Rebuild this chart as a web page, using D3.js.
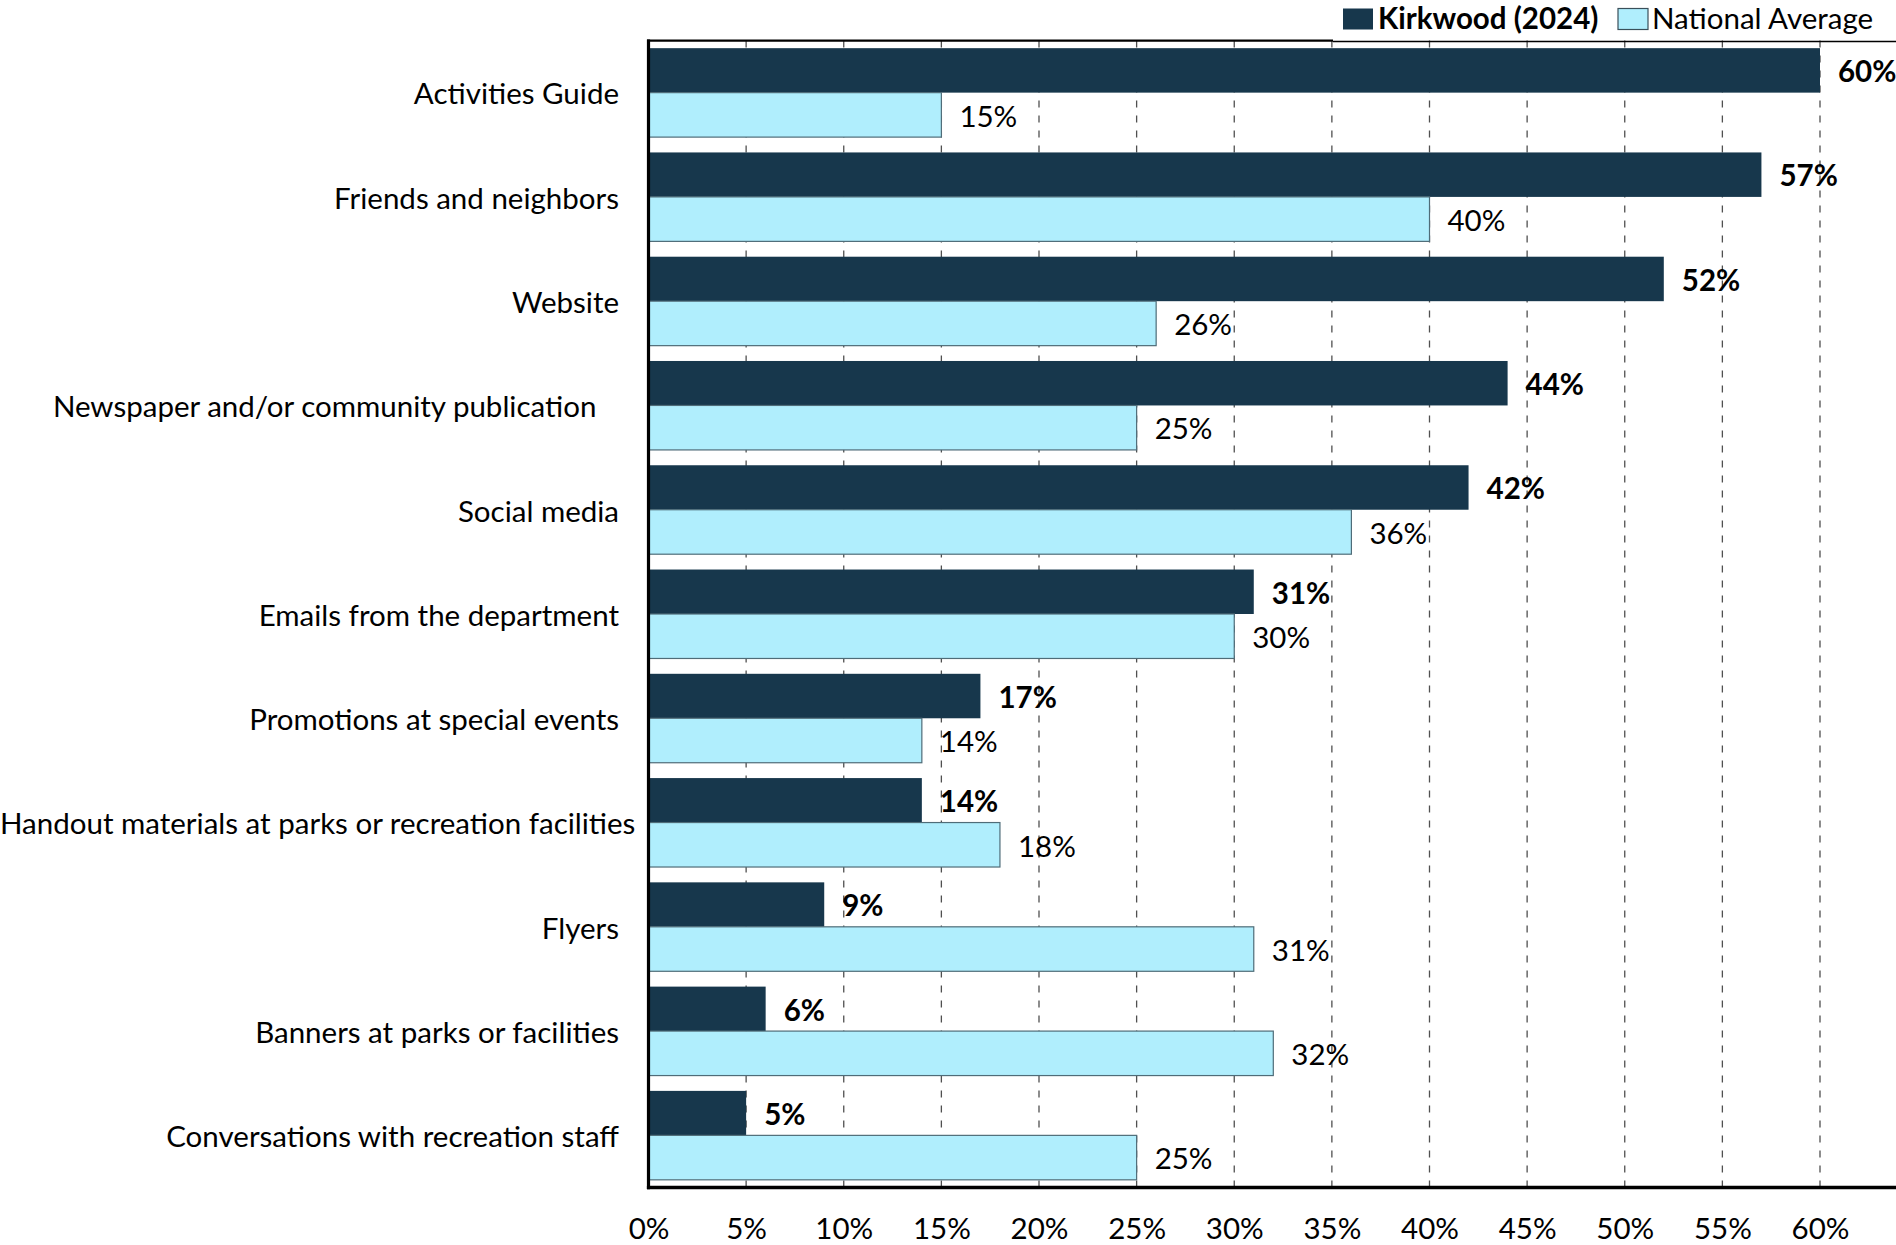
<!DOCTYPE html>
<html>
<head>
<meta charset="utf-8">
<script src="https://cdn.jsdelivr.net/npm/d3@7"></script>
<style>
  html, body { margin: 0; padding: 0; background: #fff; }
  svg { display: block; }
  text { font-family: Lato, "Open Sans", sans-serif; fill: #000; }
</style>
</head>
<body>
<svg id="chart" width="1896" height="1245"></svg>
<script>
const categories = [
  "Activities Guide",
  "Friends and neighbors",
  "Website",
  "Newspaper and/or community publication\u00a0\u00a0\u00a0",
  "Social media",
  "Emails from the department",
  "Promotions at special events",
  "Handout materials at parks or recreation facilities",
  "Flyers",
  "Banners at parks or facilities",
  "Conversations with recreation staff"
];
const kirkwood = [60, 57, 52, 44, 42, 31, 17, 14, 9, 6, 5];
const national = [15, 40, 26, 25, 36, 30, 14, 18, 31, 32, 25];
const seriesNames = ["Kirkwood (2024)", "National Average"];
const xTicks = [0, 5, 10, 15, 20, 25, 30, 35, 40, 45, 50, 55, 60];

const W = 1896, H = 1245;
const m = { left: 648.5, top: 40.5, bottom: 1187.5 };
const colors = ["#17374C", "#B0EEFD"];
const fontSize = 29.5;

const svg = d3.select("#chart");

const x = d3.scaleLinear().domain([0, 60]).range([m.left, 1820]);
const y = d3.scaleBand().domain(categories).range([m.top, m.bottom]).paddingInner(0.147).paddingOuter(0.0735);
const sub = d3.scaleBand().domain([0, 1]).range([0, y.bandwidth()]);

// gridlines
svg.append("g").selectAll("line").data(xTicks.filter(d => d > 0)).join("line")
  .attr("x1", d => x(d)).attr("x2", d => x(d))
  .attr("y1", m.top).attr("y2", m.bottom)
  .attr("stroke", "#505050").attr("stroke-width", 1.3)
  .attr("stroke-dasharray", "7,8");

// bars
const rows = categories.map((c, i) => ({ c, v: [kirkwood[i], national[i]] }));
const g = svg.append("g").selectAll("g").data(rows).join("g")
  .attr("transform", d => `translate(0,${y(d.c)})`);

g.selectAll("rect").data(d => d.v.map((v, k) => ({ v, k }))).join("rect")
  .attr("x", x(0))
  .attr("y", d => sub(d.k))
  .attr("width", d => x(d.v) - x(0))
  .attr("height", sub.bandwidth())
  .attr("fill", d => colors[d.k])
  .attr("stroke", d => d.k === 1 ? "#4f6c78" : "none")
  .attr("stroke-width", 1.2);

g.selectAll("text.val").data(d => d.v.map((v, k) => ({ v, k }))).join("text")
  .attr("class", "val")
  .attr("x", d => x(d.v) + 18)
  .attr("y", d => sub(d.k) + sub.bandwidth() / 2)
  .attr("dy", "0.4em")
  .attr("font-size", fontSize)
  .attr("font-weight", d => d.k === 0 ? "bold" : "normal")
  .text(d => d.v + "%");

// category labels
const labelRight = 619;
svg.append("g").selectAll("text").data(categories).join("text")
  .attr("y", d => y(d) + y.bandwidth() / 2)
  .attr("dy", "0.4em")
  .attr("font-size", fontSize)
  .style("white-space", "pre")
  .text(d => d)
  .each(function () {
    const w = this.getComputedTextLength();
    const sel = d3.select(this);
    if (w > labelRight) sel.attr("x", 0).attr("text-anchor", "start");
    else sel.attr("x", labelRight).attr("text-anchor", "end");
  });

// x axis
const xAxis = d3.axisBottom(x).tickValues(xTicks).tickFormat(d => d + "%").tickSize(0).tickPadding(0);
const ax = svg.append("g").attr("transform", `translate(0,${m.bottom})`).call(xAxis);
ax.select(".domain").remove();
ax.selectAll("text").attr("font-size", fontSize).attr("font-family", "Lato, sans-serif")
  .attr("fill", "#000").attr("y", 41).attr("dy", "0.36em");

// frame lines
svg.append("line").attr("x1", m.left - 1.5).attr("x2", 1333).attr("y1", 40.7).attr("y2", 40.7)
  .attr("stroke", "#000").attr("stroke-width", 2.2);
svg.append("line").attr("x1", 1333).attr("x2", W).attr("y1", 41.5).attr("y2", 41.5)
  .attr("stroke", "#000").attr("stroke-width", 1.3);
svg.append("line").attr("x1", m.left).attr("x2", m.left).attr("y1", 39.6).attr("y2", m.bottom + 1.7)
  .attr("stroke", "#000").attr("stroke-width", 3.2);
svg.append("line").attr("x1", m.left - 1.6).attr("x2", W).attr("y1", m.bottom).attr("y2", m.bottom)
  .attr("stroke", "#000").attr("stroke-width", 3.4);

// legend
const legend = svg.append("g");
const legItems = [
  { name: seriesNames[0], sx: 1343, tx: 1378, bold: true },
  { name: seriesNames[1], sx: 1618, tx: 1652, bold: false }
];
legItems.forEach((d, k) => {
  legend.append("rect").attr("x", d.sx).attr("y", 8.5).attr("width", 30).attr("height", 21)
    .attr("fill", colors[k]).attr("stroke", k === 1 ? "#3a4f5a" : "none").attr("stroke-width", 1.2);
  legend.append("text").attr("x", d.tx).attr("y", 18).attr("dy", "0.38em")
    .attr("font-size", fontSize).attr("font-weight", d.bold ? "bold" : "normal").text(d.name);
});
</script>
</body>
</html>
